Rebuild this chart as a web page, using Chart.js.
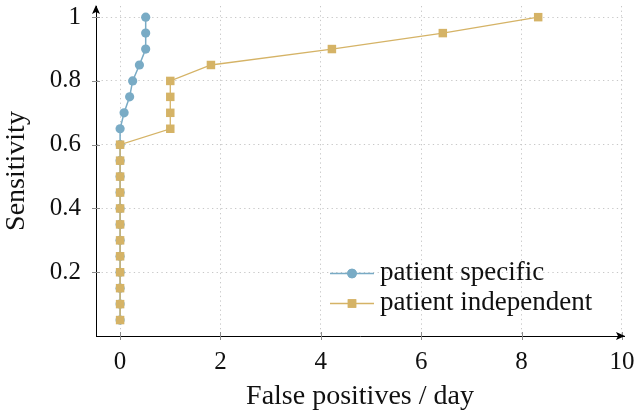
<!DOCTYPE html>
<html>
<head>
    <title>ROC</title>
    <script src="https://cdn.jsdelivr.net/npm/chart.js@4.4.0/dist/chart.umd.min.js"></script>
    <style>
        body { margin: 0; background: #fff; }
        #wrap { width: 636px; height: 416px; position: relative; }
    </style>
</head>
<body>
    <div id="wrap"><canvas id="roc"></canvas></div>
    <script>
        // Sensitivity levels shared by both curves
        var sensitivity = [0.05, 0.10, 0.15, 0.20, 0.25, 0.30, 0.35, 0.40, 0.45, 0.50,
            0.55, 0.60, 0.65, 0.70, 0.75, 0.80, 0.85, 0.90, 0.95, 1.00];
        // False positives per day
        var specificFp = [0, 0, 0, 0, 0, 0, 0, 0, 0, 0,
            0, 0, 0, 0.08, 0.19, 0.25, 0.385, 0.51, 0.51, 0.51];
        var independentFp = [0, 0, 0, 0, 0, 0, 0, 0, 0, 0,
            0, 0, 1.0, 1.0, 1.0, 1.0, 1.81, 4.22, 6.43, 8.33];
        var seriesNames = ['patient specific', 'patient independent'];
        var xTicks = [0, 2, 4, 6, 8, 10];
        var yTicks = [0.2, 0.4, 0.6, 0.8, 1];

        var blue = '#79abc5';
        var gold = '#d5b366';
        var serif = "'Liberation Serif', 'DejaVu Serif', serif";

        function toPoints(xs, ys) {
            return xs.map(function(x, i) { return { x: x, y: ys[i] }; });
        }

        // axis arrows, small tick marks and the legend
        var extras = {
            id: 'extras',
            beforeDatasetsDraw: function(chart) {
                var ctx = chart.ctx, a = chart.chartArea;
                var xs = chart.scales.x, ys = chart.scales.y;
                ctx.save();
                ctx.strokeStyle = '#8c8c8c';
                ctx.lineWidth = 1;
                ctx.beginPath();
                xs.ticks.forEach(function(t) {
                    var px = Math.round(xs.getPixelForValue(t.value)) + 0.5;
                    ctx.moveTo(px, a.bottom - 4);
                    ctx.lineTo(px, a.bottom + 4);
                });
                ys.ticks.forEach(function(t) {
                    var py = Math.round(ys.getPixelForValue(t.value)) + 0.5;
                    ctx.moveTo(a.left - 4, py);
                    ctx.lineTo(a.left + 4, py);
                });
                ctx.stroke();
                ctx.restore();
            },
            afterDraw: function(chart) {
                var ctx = chart.ctx, a = chart.chartArea;
                ctx.save();
                ctx.fillStyle = '#000';
                // y arrow
                ctx.beginPath();
                ctx.moveTo(a.left, a.top - 1);
                ctx.lineTo(a.left - 4, a.top + 8);
                ctx.lineTo(a.left, a.top + 6);
                ctx.lineTo(a.left + 4, a.top + 8);
                ctx.closePath();
                ctx.fill();
                // x arrow
                ctx.beginPath();
                ctx.moveTo(a.right + 1, a.bottom);
                ctx.lineTo(a.right - 8, a.bottom - 4);
                ctx.lineTo(a.right - 6, a.bottom);
                ctx.lineTo(a.right - 8, a.bottom + 4);
                ctx.closePath();
                ctx.fill();

                // legend
                var rows = [
                    { color: blue, style: 'circle', r: 4.8, y: 273 },
                    { color: gold, style: 'rect', r: 6, y: 303 }
                ];
                rows.forEach(function(row, i) {
                    ctx.strokeStyle = row.color;
                    ctx.lineWidth = 1.3;
                    ctx.beginPath();
                    ctx.moveTo(330, row.y + 0.5);
                    ctx.lineTo(374, row.y + 0.5);
                    ctx.stroke();
                    ctx.fillStyle = row.color;
                    Chart.helpers.drawPoint(ctx, { pointStyle: row.style, radius: row.r, rotation: 0, borderWidth: 0 }, 352, row.y + 0.5);
                    ctx.fill();
                    ctx.fillStyle = '#111';
                    ctx.font = '27px ' + serif;
                    ctx.textBaseline = 'middle';
                    ctx.textAlign = 'left';
                    ctx.fillText(seriesNames[i], 380, row.y);
                });
                ctx.restore();
            }
        };

        var ctx = document.getElementById('roc').getContext('2d');
        var chart = new Chart(ctx, {
            type: 'line',
            data: {
                datasets: [{
                    label: seriesNames[0],
                    data: toPoints(specificFp, sensitivity),
                    borderColor: blue,
                    backgroundColor: blue,
                    borderWidth: 1.5,
                    pointStyle: 'circle',
                    pointRadius: 4.6,
                    pointBorderWidth: 0,
                    pointHoverRadius: 4.6,
                    order: 2
                }, {
                    label: seriesNames[1],
                    data: toPoints(independentFp, sensitivity),
                    borderColor: gold,
                    backgroundColor: gold,
                    borderWidth: 1.3,
                    pointStyle: 'rect',
                    pointRadius: 6,
                    pointBorderWidth: 0,
                    pointHoverRadius: 6,
                    order: 1
                }]
            },
            options: {
                responsive: true,
                maintainAspectRatio: false,
                animation: false,
                devicePixelRatio: 1,
                clip: false,
                layout: { padding: { top: 2, right: 12, left: 0, bottom: 0 } },
                plugins: {
                    legend: { display: false },
                    tooltip: { enabled: false }
                },
                scales: {
                    x: {
                        type: 'linear',
                        min: -0.48,
                        max: 10.04,
                        afterBuildTicks: function(scale) {
                            scale.ticks = xTicks.map(function(v) { return { value: v }; });
                        },
                        afterFit: function(scale) {
                            scale.height = 80;
                            scale.paddingLeft = 0;
                            scale.paddingRight = 0;
                        },
                        grid: { color: '#c8c8c8', lineWidth: 1, drawTicks: false },
                        border: { display: true, color: '#000', width: 1, dash: [1.3, 3.3] },
                        ticks: {
                            padding: 11,
                            color: '#111',
                            font: { family: serif, size: 25 },
                            callback: function(v) { return String(v); }
                        },
                        title: {
                            display: true,
                            text: 'False positives / day',
                            color: '#111',
                            font: { family: serif, size: 28 },
                            padding: { top: 0, bottom: 3 }
                        }
                    },
                    y: {
                        type: 'linear',
                        min: 0,
                        max: 1.035,
                        afterBuildTicks: function(scale) {
                            scale.ticks = yTicks.map(function(v) { return { value: v }; });
                        },
                        afterFit: function(scale) {
                            scale.width = 96;
                            scale.paddingTop = 0;
                            scale.paddingBottom = 0;
                        },
                        grid: { color: '#c8c8c8', lineWidth: 1, drawTicks: false },
                        border: { display: true, color: '#000', width: 1, dash: [1.3, 3.3] },
                        ticks: {
                            padding: 15,
                            color: '#111',
                            font: { family: serif, size: 25 },
                            callback: function(v) { return v === 1 ? '1' : v.toFixed(1); }
                        },
                        title: {
                            display: true,
                            text: 'Sensitivity',
                            color: '#111',
                            font: { family: serif, size: 28 },
                            padding: { top: 0, bottom: 0 }
                        }
                    }
                }
            },
            plugins: [extras]
        });
    </script>
</body>
</html>
